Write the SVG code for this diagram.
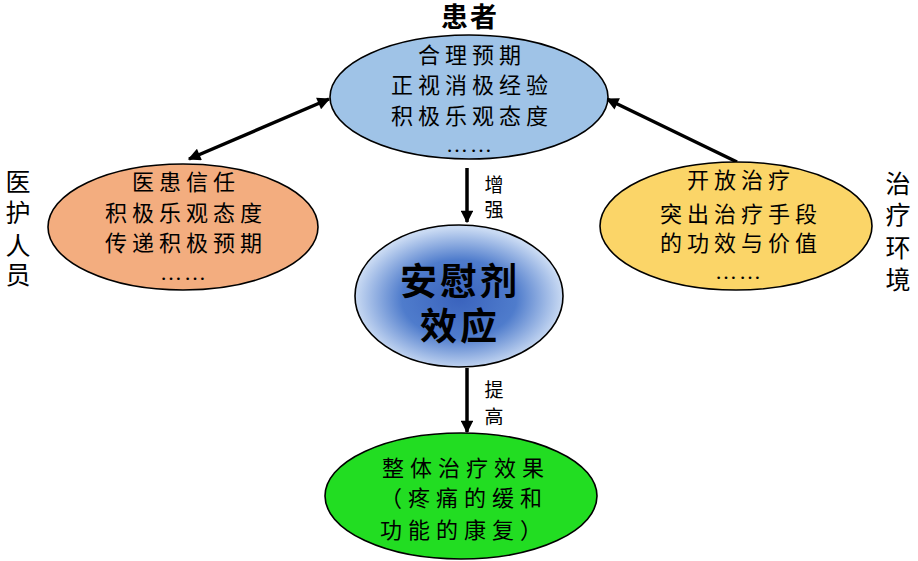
<svg xmlns="http://www.w3.org/2000/svg" width="918" height="561" viewBox="0 0 918 561">
<style>
text{font-family:"Liberation Serif","Noto Sans CJK SC",serif;fill:#000;text-anchor:middle}
.n{font-size:22px;letter-spacing:5px}
.d{font-size:22px;letter-spacing:2px}
.side{font-size:25px}
.lbl{font-size:19px}
.big{font-size:37px;font-weight:bold;letter-spacing:3px}
.el{stroke:#000;stroke-width:1.6}
.c{stroke:#000;stroke-width:3.5;fill:none}
</style>
<defs>
<marker id="ah" viewBox="0 0 10 10" refX="9" refY="5" markerWidth="4" markerHeight="3.6" orient="auto-start-reverse" markerUnits="strokeWidth">
<path d="M0,0 L10,5 L0,10 Z" fill="#000"/>
</marker>
<radialGradient id="rg" cx="50%" cy="52%" r="50%">
<stop offset="0" stop-color="#3a63bd"/>
<stop offset="0.55" stop-color="#4f7ccc"/>
<stop offset="1" stop-color="#c9daf3"/>
</radialGradient>
</defs>
<rect width="918" height="561" fill="#fff"/>
<g id="connectors">
<line class="c" x1="189" y1="159" x2="329" y2="99" marker-start="url(#ah)" marker-end="url(#ah)"/>
<line class="c" x1="737" y1="162" x2="607" y2="99" marker-end="url(#ah)"/>
<line class="c" x1="467" y1="168" x2="467" y2="222" marker-end="url(#ah)"/>
<line class="c" x1="467" y1="368" x2="467" y2="432" marker-end="url(#ah)"/>
<text class="lbl" x="494" y="192">增</text>
<text class="lbl" x="494" y="217">强</text>
<text class="lbl" x="494" y="397">提</text>
<text class="lbl" x="494" y="424">高</text>
</g>
<g id="patient">
<text x="470" y="27" style="font-size:27px;font-weight:bold;letter-spacing:2px">患者</text>
<ellipse class="el" cx="469" cy="97" rx="139" ry="62" fill="#9fc3e7"/>
<text class="n" x="472" y="63">合理预期</text>
<text class="n" x="472" y="93">正视消极经验</text>
<text class="n" x="472" y="124">积极乐观态度</text>
<text class="d" x="470" y="152">……</text>
</g>
<g id="medical-staff">
<text class="side" x="18" y="191">医</text>
<text class="side" x="18" y="222">护</text>
<text class="side" x="18" y="255">人</text>
<text class="side" x="18" y="284">员</text>
<ellipse class="el" cx="183" cy="227" rx="135" ry="63" fill="#f3ad7f"/>
<text class="n" x="186" y="190">医患信任</text>
<text class="n" x="186" y="221">积极乐观态度</text>
<text class="n" x="186" y="251">传递积极预期</text>
<text class="d" x="184" y="280">……</text>
</g>
<g id="environment">
<text class="side" x="898" y="193">治</text>
<text class="side" x="898" y="224">疗</text>
<text class="side" x="898" y="257">环</text>
<text class="side" x="898" y="289">境</text>
<ellipse class="el" cx="736" cy="226" rx="136" ry="64" fill="#fbd568"/>
<text class="n" x="741" y="188">开放治疗</text>
<text class="n" x="741" y="222">突出治疗手段</text>
<text class="n" x="741" y="251">的功效与价值</text>
<text class="d" x="739" y="279">……</text>
</g>
<g id="placebo">
<ellipse class="el" cx="459" cy="296" rx="104" ry="71" fill="url(#rg)"/>
<text class="big" x="460" y="295">安慰剂</text>
<text class="big" x="460" y="340">效应</text>
</g>
<g id="outcome">
<ellipse class="el" cx="461" cy="496" rx="136" ry="63" fill="#22dd22"/>
<text class="n" x="466" y="476" style="letter-spacing:6px">整体治疗效果</text>
<text class="n" x="464" y="506" style="letter-spacing:6px">（疼痛的缓和</text>
<text class="n" x="464" y="538" style="letter-spacing:6px">功能的康复）</text>
</g>
</svg>
